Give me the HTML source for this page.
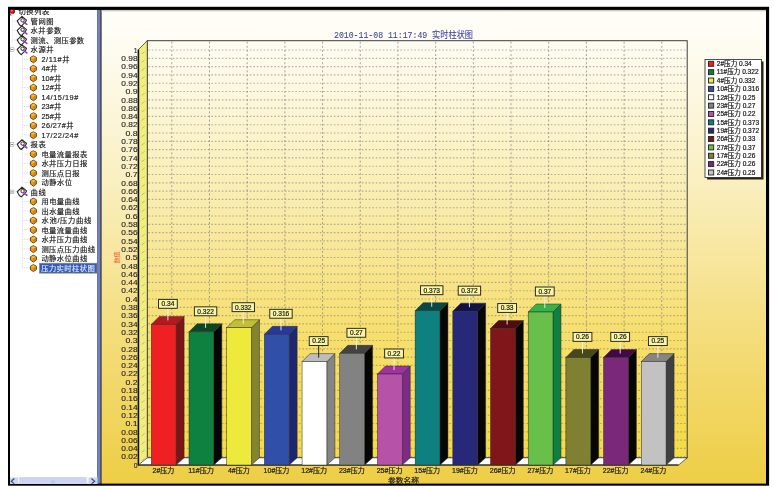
<!DOCTYPE html>
<html lang="zh"><head><meta charset="utf-8"><title>实时柱状图</title>
<style>html,body{margin:0;padding:0;background:#fff;overflow:hidden}svg{display:block}</style></head><body>
<svg width="774" height="489" viewBox="0 0 774 489">
<defs>
<linearGradient id="bg" x1="0" y1="0" x2="0" y2="1"><stop offset="0" stop-color="#fffefa"/><stop offset="0.1" stop-color="#fefbee"/><stop offset="0.35" stop-color="#faf0c2"/><stop offset="0.7" stop-color="#f4dc79"/><stop offset="1" stop-color="#eece45"/></linearGradient>
<linearGradient id="wall" x1="0" y1="0" x2="0" y2="1"><stop offset="0" stop-color="#ffe640" stop-opacity="0"/><stop offset="0.5" stop-color="#ffe640" stop-opacity="0.1"/><stop offset="1" stop-color="#ffe640" stop-opacity="0.45"/></linearGradient>
<radialGradient id="ball" cx="0.4" cy="0.35" r="0.7"><stop offset="0" stop-color="#ff8080"/><stop offset="0.5" stop-color="#e01010"/><stop offset="1" stop-color="#800000"/></radialGradient>
<clipPath id="inner"><rect x="10" y="9.8" width="756" height="473.9"/></clipPath>
</defs>
<rect x="0.00" y="0.00" width="774.00" height="489.00" fill="#fff"/>
<rect x="8.00" y="6.80" width="761.10" height="478.90" fill="#000"/>
<g clip-path="url(#inner)">
<rect x="10.00" y="9.80" width="87.40" height="474.00" fill="#fff"/>
<rect x="97.40" y="9.80" width="2.90" height="474.00" fill="#7080c8"/>
<rect x="100.30" y="9.80" width="1.40" height="474.00" fill="#6a675f"/>
<rect x="101.70" y="9.80" width="664.30" height="474.00" fill="url(#bg)"/>
<rect x="101.70" y="9.80" width="664.30" height="1.00" fill="#b9b5a4"/>
<rect x="101.70" y="10.80" width="664.30" height="0.80" fill="#e6e3d6"/>
<line x1="12.20" y1="14.60" x2="12.20" y2="191.91" stroke="#e4e4e4" stroke-width="0.7" stroke-dasharray="0.8 0.8"/>
<line x1="12.20" y1="21.09" x2="17.00" y2="21.09" stroke="#c9c9c9" stroke-width="0.7" stroke-dasharray="0.8 0.8"/>
<line x1="12.20" y1="30.58" x2="17.00" y2="30.58" stroke="#c9c9c9" stroke-width="0.7" stroke-dasharray="0.8 0.8"/>
<line x1="12.20" y1="40.07" x2="17.00" y2="40.07" stroke="#c9c9c9" stroke-width="0.7" stroke-dasharray="0.8 0.8"/>
<line x1="12.20" y1="49.56" x2="17.00" y2="49.56" stroke="#c9c9c9" stroke-width="0.7" stroke-dasharray="0.8 0.8"/>
<line x1="12.20" y1="144.46" x2="17.00" y2="144.46" stroke="#c9c9c9" stroke-width="0.7" stroke-dasharray="0.8 0.8"/>
<line x1="12.20" y1="191.91" x2="17.00" y2="191.91" stroke="#c9c9c9" stroke-width="0.7" stroke-dasharray="0.8 0.8"/>
<line x1="22.40" y1="53.56" x2="22.40" y2="134.97" stroke="#c9c9c9" stroke-width="0.7" stroke-dasharray="0.8 0.8"/>
<line x1="22.40" y1="59.05" x2="29.50" y2="59.05" stroke="#c9c9c9" stroke-width="0.7" stroke-dasharray="0.8 0.8"/>
<line x1="22.40" y1="68.54" x2="29.50" y2="68.54" stroke="#c9c9c9" stroke-width="0.7" stroke-dasharray="0.8 0.8"/>
<line x1="22.40" y1="78.03" x2="29.50" y2="78.03" stroke="#c9c9c9" stroke-width="0.7" stroke-dasharray="0.8 0.8"/>
<line x1="22.40" y1="87.52" x2="29.50" y2="87.52" stroke="#c9c9c9" stroke-width="0.7" stroke-dasharray="0.8 0.8"/>
<line x1="22.40" y1="97.01" x2="29.50" y2="97.01" stroke="#c9c9c9" stroke-width="0.7" stroke-dasharray="0.8 0.8"/>
<line x1="22.40" y1="106.50" x2="29.50" y2="106.50" stroke="#c9c9c9" stroke-width="0.7" stroke-dasharray="0.8 0.8"/>
<line x1="22.40" y1="115.99" x2="29.50" y2="115.99" stroke="#c9c9c9" stroke-width="0.7" stroke-dasharray="0.8 0.8"/>
<line x1="22.40" y1="125.48" x2="29.50" y2="125.48" stroke="#c9c9c9" stroke-width="0.7" stroke-dasharray="0.8 0.8"/>
<line x1="22.40" y1="134.97" x2="29.50" y2="134.97" stroke="#c9c9c9" stroke-width="0.7" stroke-dasharray="0.8 0.8"/>
<rect x="10.30" y="47.76" width="3.60" height="3.60" fill="#fff" stroke="#a0a8b8" stroke-width="0.6"/>
<line x1="11.10" y1="49.56" x2="13.10" y2="49.56" stroke="#444" stroke-width="0.7"/>
<line x1="22.40" y1="148.46" x2="22.40" y2="182.42" stroke="#c9c9c9" stroke-width="0.7" stroke-dasharray="0.8 0.8"/>
<line x1="22.40" y1="153.95" x2="29.50" y2="153.95" stroke="#c9c9c9" stroke-width="0.7" stroke-dasharray="0.8 0.8"/>
<line x1="22.40" y1="163.44" x2="29.50" y2="163.44" stroke="#c9c9c9" stroke-width="0.7" stroke-dasharray="0.8 0.8"/>
<line x1="22.40" y1="172.93" x2="29.50" y2="172.93" stroke="#c9c9c9" stroke-width="0.7" stroke-dasharray="0.8 0.8"/>
<line x1="22.40" y1="182.42" x2="29.50" y2="182.42" stroke="#c9c9c9" stroke-width="0.7" stroke-dasharray="0.8 0.8"/>
<rect x="10.30" y="142.66" width="3.60" height="3.60" fill="#fff" stroke="#a0a8b8" stroke-width="0.6"/>
<line x1="11.10" y1="144.46" x2="13.10" y2="144.46" stroke="#444" stroke-width="0.7"/>
<line x1="22.40" y1="195.91" x2="22.40" y2="267.83" stroke="#c9c9c9" stroke-width="0.7" stroke-dasharray="0.8 0.8"/>
<line x1="22.40" y1="201.40" x2="29.50" y2="201.40" stroke="#c9c9c9" stroke-width="0.7" stroke-dasharray="0.8 0.8"/>
<line x1="22.40" y1="210.89" x2="29.50" y2="210.89" stroke="#c9c9c9" stroke-width="0.7" stroke-dasharray="0.8 0.8"/>
<line x1="22.40" y1="220.38" x2="29.50" y2="220.38" stroke="#c9c9c9" stroke-width="0.7" stroke-dasharray="0.8 0.8"/>
<line x1="22.40" y1="229.87" x2="29.50" y2="229.87" stroke="#c9c9c9" stroke-width="0.7" stroke-dasharray="0.8 0.8"/>
<line x1="22.40" y1="239.36" x2="29.50" y2="239.36" stroke="#c9c9c9" stroke-width="0.7" stroke-dasharray="0.8 0.8"/>
<line x1="22.40" y1="248.85" x2="29.50" y2="248.85" stroke="#c9c9c9" stroke-width="0.7" stroke-dasharray="0.8 0.8"/>
<line x1="22.40" y1="258.34" x2="29.50" y2="258.34" stroke="#c9c9c9" stroke-width="0.7" stroke-dasharray="0.8 0.8"/>
<line x1="22.40" y1="267.83" x2="29.50" y2="267.83" stroke="#c9c9c9" stroke-width="0.7" stroke-dasharray="0.8 0.8"/>
<rect x="10.30" y="190.11" width="3.60" height="3.60" fill="#fff" stroke="#a0a8b8" stroke-width="0.6"/>
<line x1="11.10" y1="191.91" x2="13.10" y2="191.91" stroke="#444" stroke-width="0.7"/>
<circle cx="12.4" cy="11.2" r="2.6" fill="url(#ball)"/>
<polygon points="10.00,13.00 12.00,15.20 10.00,15.60" fill="#109030"/>
<text transform="translate(18.60 13.80) scale(.1)" font-size="73.0" fill="#222" font-family='"Liberation Sans","Noto Sans CJK SC",sans-serif' stroke="#222" stroke-width="1.7" textLength="306.0" lengthAdjust="spacing">切换列表</text>
<polygon points="17.20,20.89 22.00,16.39 26.50,20.09 25.40,22.09 21.20,26.09 19.40,24.69" fill="#fff" stroke="#2a2a2a" stroke-width="1.15" stroke-linejoin="round"/>
<circle cx="22.60" cy="20.29" r="1.7" fill="#fff" stroke="#333" stroke-width="1.0"/>
<line x1="23.20" y1="21.59" x2="26.80" y2="24.39" stroke="#9048b0" stroke-width="1.7" stroke-linecap="round"/>
<text transform="translate(30.60 23.84) scale(.1)" font-size="73.0" fill="#1c1c1c" font-family='"Liberation Sans","Noto Sans CJK SC",sans-serif' stroke="#1c1c1c" stroke-width="1.7" textLength="229.5" lengthAdjust="spacing">管网图</text>
<polygon points="17.20,30.38 22.00,25.88 26.50,29.58 25.40,31.58 21.20,35.58 19.40,34.18" fill="#fff" stroke="#2a2a2a" stroke-width="1.15" stroke-linejoin="round"/>
<circle cx="22.60" cy="29.78" r="1.7" fill="#fff" stroke="#333" stroke-width="1.0"/>
<line x1="23.20" y1="31.08" x2="26.80" y2="33.88" stroke="#9048b0" stroke-width="1.7" stroke-linecap="round"/>
<text transform="translate(30.60 33.33) scale(.1)" font-size="73.0" fill="#1c1c1c" font-family='"Liberation Sans","Noto Sans CJK SC",sans-serif' stroke="#1c1c1c" stroke-width="1.7" textLength="306.0" lengthAdjust="spacing">水井参数</text>
<polygon points="17.20,39.87 22.00,35.37 26.50,39.07 25.40,41.07 21.20,45.07 19.40,43.67" fill="#fff" stroke="#2a2a2a" stroke-width="1.15" stroke-linejoin="round"/>
<circle cx="22.60" cy="39.27" r="1.7" fill="#fff" stroke="#333" stroke-width="1.0"/>
<line x1="23.20" y1="40.57" x2="26.80" y2="43.37" stroke="#9048b0" stroke-width="1.7" stroke-linecap="round"/>
<text transform="translate(30.60 42.82) scale(.1)" font-size="73.0" fill="#1c1c1c" font-family='"Liberation Sans","Noto Sans CJK SC",sans-serif' stroke="#1c1c1c" stroke-width="1.7" textLength="535.5" lengthAdjust="spacing">测流、测压参数</text>
<polygon points="17.20,49.36 22.00,44.86 26.50,48.56 25.40,50.56 21.20,54.56 19.40,53.16" fill="#fff" stroke="#2a2a2a" stroke-width="1.15" stroke-linejoin="round"/>
<circle cx="22.60" cy="48.76" r="1.7" fill="#fff" stroke="#333" stroke-width="1.0"/>
<line x1="23.20" y1="50.06" x2="26.80" y2="52.86" stroke="#9048b0" stroke-width="1.7" stroke-linecap="round"/>
<text transform="translate(30.60 52.31) scale(.1)" font-size="73.0" fill="#1c1c1c" font-family='"Liberation Sans","Noto Sans CJK SC",sans-serif' stroke="#1c1c1c" stroke-width="1.7" textLength="229.5" lengthAdjust="spacing">水源井</text>
<polygon points="33.40,55.85 36.40,57.45 36.40,60.75 33.40,62.75 30.40,60.75 30.40,57.45" fill="#eb9c1a" stroke="#5e3806" stroke-width="0.9" stroke-linejoin="round"/>
<polygon points="33.40,56.35 35.90,57.65 33.40,58.95 30.90,57.65" fill="#fbb840"/>
<polygon points="33.40,58.95 35.90,57.65 35.90,60.55 33.40,62.15" fill="#d0820e"/>
<text transform="translate(41.40 61.80) scale(.1)" font-size="73.0" fill="#1c1c1c" font-family='"Liberation Sans","Noto Sans CJK SC",sans-serif' stroke="#1c1c1c" stroke-width="1.7" textLength="281.5" lengthAdjust="spacing">2/11#井</text>
<polygon points="33.40,65.34 36.40,66.94 36.40,70.24 33.40,72.24 30.40,70.24 30.40,66.94" fill="#eb9c1a" stroke="#5e3806" stroke-width="0.9" stroke-linejoin="round"/>
<polygon points="33.40,65.84 35.90,67.14 33.40,68.44 30.90,67.14" fill="#fbb840"/>
<polygon points="33.40,68.44 35.90,67.14 35.90,70.04 33.40,71.64" fill="#d0820e"/>
<text transform="translate(41.40 71.29) scale(.1)" font-size="73.0" fill="#1c1c1c" font-family='"Liberation Sans","Noto Sans CJK SC",sans-serif' stroke="#1c1c1c" stroke-width="1.7" textLength="158.5" lengthAdjust="spacing">4#井</text>
<polygon points="33.40,74.83 36.40,76.43 36.40,79.73 33.40,81.73 30.40,79.73 30.40,76.43" fill="#eb9c1a" stroke="#5e3806" stroke-width="0.9" stroke-linejoin="round"/>
<polygon points="33.40,75.33 35.90,76.63 33.40,77.93 30.90,76.63" fill="#fbb840"/>
<polygon points="33.40,77.93 35.90,76.63 35.90,79.53 33.40,81.13" fill="#d0820e"/>
<text transform="translate(41.40 80.78) scale(.1)" font-size="73.0" fill="#1c1c1c" font-family='"Liberation Sans","Noto Sans CJK SC",sans-serif' stroke="#1c1c1c" stroke-width="1.7" textLength="199.5" lengthAdjust="spacing">10#井</text>
<polygon points="33.40,84.32 36.40,85.92 36.40,89.22 33.40,91.22 30.40,89.22 30.40,85.92" fill="#eb9c1a" stroke="#5e3806" stroke-width="0.9" stroke-linejoin="round"/>
<polygon points="33.40,84.82 35.90,86.12 33.40,87.42 30.90,86.12" fill="#fbb840"/>
<polygon points="33.40,87.42 35.90,86.12 35.90,89.02 33.40,90.62" fill="#d0820e"/>
<text transform="translate(41.40 90.27) scale(.1)" font-size="73.0" fill="#1c1c1c" font-family='"Liberation Sans","Noto Sans CJK SC",sans-serif' stroke="#1c1c1c" stroke-width="1.7" textLength="199.5" lengthAdjust="spacing">12#井</text>
<polygon points="33.40,93.81 36.40,95.41 36.40,98.71 33.40,100.71 30.40,98.71 30.40,95.41" fill="#eb9c1a" stroke="#5e3806" stroke-width="0.9" stroke-linejoin="round"/>
<polygon points="33.40,94.31 35.90,95.61 33.40,96.91 30.90,95.61" fill="#fbb840"/>
<polygon points="33.40,96.91 35.90,95.61 35.90,98.51 33.40,100.11" fill="#d0820e"/>
<text transform="translate(41.40 99.76) scale(.1)" font-size="73.0" fill="#1c1c1c" font-family='"Liberation Sans","Noto Sans CJK SC",sans-serif' stroke="#1c1c1c" stroke-width="1.7" textLength="369.0" lengthAdjust="spacing">14/15/19#</text>
<polygon points="33.40,103.30 36.40,104.90 36.40,108.20 33.40,110.20 30.40,108.20 30.40,104.90" fill="#eb9c1a" stroke="#5e3806" stroke-width="0.9" stroke-linejoin="round"/>
<polygon points="33.40,103.80 35.90,105.10 33.40,106.40 30.90,105.10" fill="#fbb840"/>
<polygon points="33.40,106.40 35.90,105.10 35.90,108.00 33.40,109.60" fill="#d0820e"/>
<text transform="translate(41.40 109.25) scale(.1)" font-size="73.0" fill="#1c1c1c" font-family='"Liberation Sans","Noto Sans CJK SC",sans-serif' stroke="#1c1c1c" stroke-width="1.7" textLength="199.5" lengthAdjust="spacing">23#井</text>
<polygon points="33.40,112.79 36.40,114.39 36.40,117.69 33.40,119.69 30.40,117.69 30.40,114.39" fill="#eb9c1a" stroke="#5e3806" stroke-width="0.9" stroke-linejoin="round"/>
<polygon points="33.40,113.29 35.90,114.59 33.40,115.89 30.90,114.59" fill="#fbb840"/>
<polygon points="33.40,115.89 35.90,114.59 35.90,117.49 33.40,119.09" fill="#d0820e"/>
<text transform="translate(41.40 118.74) scale(.1)" font-size="73.0" fill="#1c1c1c" font-family='"Liberation Sans","Noto Sans CJK SC",sans-serif' stroke="#1c1c1c" stroke-width="1.7" textLength="199.5" lengthAdjust="spacing">25#井</text>
<polygon points="33.40,122.28 36.40,123.88 36.40,127.18 33.40,129.18 30.40,127.18 30.40,123.88" fill="#eb9c1a" stroke="#5e3806" stroke-width="0.9" stroke-linejoin="round"/>
<polygon points="33.40,122.78 35.90,124.08 33.40,125.38 30.90,124.08" fill="#fbb840"/>
<polygon points="33.40,125.38 35.90,124.08 35.90,126.98 33.40,128.58" fill="#d0820e"/>
<text transform="translate(41.40 128.23) scale(.1)" font-size="73.0" fill="#1c1c1c" font-family='"Liberation Sans","Noto Sans CJK SC",sans-serif' stroke="#1c1c1c" stroke-width="1.7" textLength="322.5" lengthAdjust="spacing">26/27#井</text>
<polygon points="33.40,131.77 36.40,133.37 36.40,136.67 33.40,138.67 30.40,136.67 30.40,133.37" fill="#eb9c1a" stroke="#5e3806" stroke-width="0.9" stroke-linejoin="round"/>
<polygon points="33.40,132.27 35.90,133.57 33.40,134.87 30.90,133.57" fill="#fbb840"/>
<polygon points="33.40,134.87 35.90,133.57 35.90,136.47 33.40,138.07" fill="#d0820e"/>
<text transform="translate(41.40 137.72) scale(.1)" font-size="73.0" fill="#1c1c1c" font-family='"Liberation Sans","Noto Sans CJK SC",sans-serif' stroke="#1c1c1c" stroke-width="1.7" textLength="369.0" lengthAdjust="spacing">17/22/24#</text>
<polygon points="17.20,144.26 22.00,139.76 26.50,143.46 25.40,145.46 21.20,149.46 19.40,148.06" fill="#fff" stroke="#2a2a2a" stroke-width="1.15" stroke-linejoin="round"/>
<circle cx="22.60" cy="143.66" r="1.7" fill="#fff" stroke="#333" stroke-width="1.0"/>
<line x1="23.20" y1="144.96" x2="26.80" y2="147.76" stroke="#9048b0" stroke-width="1.7" stroke-linecap="round"/>
<text transform="translate(30.60 147.21) scale(.1)" font-size="73.0" fill="#1c1c1c" font-family='"Liberation Sans","Noto Sans CJK SC",sans-serif' stroke="#1c1c1c" stroke-width="1.7" textLength="153.0" lengthAdjust="spacing">报表</text>
<polygon points="33.40,150.75 36.40,152.35 36.40,155.65 33.40,157.65 30.40,155.65 30.40,152.35" fill="#eb9c1a" stroke="#5e3806" stroke-width="0.9" stroke-linejoin="round"/>
<polygon points="33.40,151.25 35.90,152.55 33.40,153.85 30.90,152.55" fill="#fbb840"/>
<polygon points="33.40,153.85 35.90,152.55 35.90,155.45 33.40,157.05" fill="#d0820e"/>
<text transform="translate(41.40 156.70) scale(.1)" font-size="73.0" fill="#1c1c1c" font-family='"Liberation Sans","Noto Sans CJK SC",sans-serif' stroke="#1c1c1c" stroke-width="1.7" textLength="459.0" lengthAdjust="spacing">电量流量报表</text>
<polygon points="33.40,160.24 36.40,161.84 36.40,165.14 33.40,167.14 30.40,165.14 30.40,161.84" fill="#eb9c1a" stroke="#5e3806" stroke-width="0.9" stroke-linejoin="round"/>
<polygon points="33.40,160.74 35.90,162.04 33.40,163.34 30.90,162.04" fill="#fbb840"/>
<polygon points="33.40,163.34 35.90,162.04 35.90,164.94 33.40,166.54" fill="#d0820e"/>
<text transform="translate(41.40 166.19) scale(.1)" font-size="73.0" fill="#1c1c1c" font-family='"Liberation Sans","Noto Sans CJK SC",sans-serif' stroke="#1c1c1c" stroke-width="1.7" textLength="459.0" lengthAdjust="spacing">水井压力日报</text>
<polygon points="33.40,169.73 36.40,171.33 36.40,174.63 33.40,176.63 30.40,174.63 30.40,171.33" fill="#eb9c1a" stroke="#5e3806" stroke-width="0.9" stroke-linejoin="round"/>
<polygon points="33.40,170.23 35.90,171.53 33.40,172.83 30.90,171.53" fill="#fbb840"/>
<polygon points="33.40,172.83 35.90,171.53 35.90,174.43 33.40,176.03" fill="#d0820e"/>
<text transform="translate(41.40 175.68) scale(.1)" font-size="73.0" fill="#1c1c1c" font-family='"Liberation Sans","Noto Sans CJK SC",sans-serif' stroke="#1c1c1c" stroke-width="1.7" textLength="382.5" lengthAdjust="spacing">测压点日报</text>
<polygon points="33.40,179.22 36.40,180.82 36.40,184.12 33.40,186.12 30.40,184.12 30.40,180.82" fill="#eb9c1a" stroke="#5e3806" stroke-width="0.9" stroke-linejoin="round"/>
<polygon points="33.40,179.72 35.90,181.02 33.40,182.32 30.90,181.02" fill="#fbb840"/>
<polygon points="33.40,182.32 35.90,181.02 35.90,183.92 33.40,185.52" fill="#d0820e"/>
<text transform="translate(41.40 185.17) scale(.1)" font-size="73.0" fill="#1c1c1c" font-family='"Liberation Sans","Noto Sans CJK SC",sans-serif' stroke="#1c1c1c" stroke-width="1.7" textLength="306.0" lengthAdjust="spacing">动静水位</text>
<polygon points="17.20,191.71 22.00,187.21 26.50,190.91 25.40,192.91 21.20,196.91 19.40,195.51" fill="#fff" stroke="#2a2a2a" stroke-width="1.15" stroke-linejoin="round"/>
<circle cx="22.60" cy="191.11" r="1.7" fill="#fff" stroke="#333" stroke-width="1.0"/>
<line x1="23.20" y1="192.41" x2="26.80" y2="195.21" stroke="#9048b0" stroke-width="1.7" stroke-linecap="round"/>
<text transform="translate(30.60 194.66) scale(.1)" font-size="73.0" fill="#1c1c1c" font-family='"Liberation Sans","Noto Sans CJK SC",sans-serif' stroke="#1c1c1c" stroke-width="1.7" textLength="153.0" lengthAdjust="spacing">曲线</text>
<polygon points="33.40,198.20 36.40,199.80 36.40,203.10 33.40,205.10 30.40,203.10 30.40,199.80" fill="#eb9c1a" stroke="#5e3806" stroke-width="0.9" stroke-linejoin="round"/>
<polygon points="33.40,198.70 35.90,200.00 33.40,201.30 30.90,200.00" fill="#fbb840"/>
<polygon points="33.40,201.30 35.90,200.00 35.90,202.90 33.40,204.50" fill="#d0820e"/>
<text transform="translate(41.40 204.15) scale(.1)" font-size="73.0" fill="#1c1c1c" font-family='"Liberation Sans","Noto Sans CJK SC",sans-serif' stroke="#1c1c1c" stroke-width="1.7" textLength="382.5" lengthAdjust="spacing">用电量曲线</text>
<polygon points="33.40,207.69 36.40,209.29 36.40,212.59 33.40,214.59 30.40,212.59 30.40,209.29" fill="#eb9c1a" stroke="#5e3806" stroke-width="0.9" stroke-linejoin="round"/>
<polygon points="33.40,208.19 35.90,209.49 33.40,210.79 30.90,209.49" fill="#fbb840"/>
<polygon points="33.40,210.79 35.90,209.49 35.90,212.39 33.40,213.99" fill="#d0820e"/>
<text transform="translate(41.40 213.64) scale(.1)" font-size="73.0" fill="#1c1c1c" font-family='"Liberation Sans","Noto Sans CJK SC",sans-serif' stroke="#1c1c1c" stroke-width="1.7" textLength="382.5" lengthAdjust="spacing">出水量曲线</text>
<polygon points="33.40,217.18 36.40,218.78 36.40,222.08 33.40,224.08 30.40,222.08 30.40,218.78" fill="#eb9c1a" stroke="#5e3806" stroke-width="0.9" stroke-linejoin="round"/>
<polygon points="33.40,217.68 35.90,218.98 33.40,220.28 30.90,218.98" fill="#fbb840"/>
<polygon points="33.40,220.28 35.90,218.98 35.90,221.88 33.40,223.48" fill="#d0820e"/>
<text transform="translate(41.40 223.13) scale(.1)" font-size="73.0" fill="#1c1c1c" font-family='"Liberation Sans","Noto Sans CJK SC",sans-serif' stroke="#1c1c1c" stroke-width="1.7" textLength="500.0" lengthAdjust="spacing">水池/压力曲线</text>
<polygon points="33.40,226.67 36.40,228.27 36.40,231.57 33.40,233.57 30.40,231.57 30.40,228.27" fill="#eb9c1a" stroke="#5e3806" stroke-width="0.9" stroke-linejoin="round"/>
<polygon points="33.40,227.17 35.90,228.47 33.40,229.77 30.90,228.47" fill="#fbb840"/>
<polygon points="33.40,229.77 35.90,228.47 35.90,231.37 33.40,232.97" fill="#d0820e"/>
<text transform="translate(41.40 232.62) scale(.1)" font-size="73.0" fill="#1c1c1c" font-family='"Liberation Sans","Noto Sans CJK SC",sans-serif' stroke="#1c1c1c" stroke-width="1.7" textLength="459.0" lengthAdjust="spacing">电量流量曲线</text>
<polygon points="33.40,236.16 36.40,237.76 36.40,241.06 33.40,243.06 30.40,241.06 30.40,237.76" fill="#eb9c1a" stroke="#5e3806" stroke-width="0.9" stroke-linejoin="round"/>
<polygon points="33.40,236.66 35.90,237.96 33.40,239.26 30.90,237.96" fill="#fbb840"/>
<polygon points="33.40,239.26 35.90,237.96 35.90,240.86 33.40,242.46" fill="#d0820e"/>
<text transform="translate(41.40 242.11) scale(.1)" font-size="73.0" fill="#1c1c1c" font-family='"Liberation Sans","Noto Sans CJK SC",sans-serif' stroke="#1c1c1c" stroke-width="1.7" textLength="459.0" lengthAdjust="spacing">水井压力曲线</text>
<polygon points="33.40,245.65 36.40,247.25 36.40,250.55 33.40,252.55 30.40,250.55 30.40,247.25" fill="#eb9c1a" stroke="#5e3806" stroke-width="0.9" stroke-linejoin="round"/>
<polygon points="33.40,246.15 35.90,247.45 33.40,248.75 30.90,247.45" fill="#fbb840"/>
<polygon points="33.40,248.75 35.90,247.45 35.90,250.35 33.40,251.95" fill="#d0820e"/>
<text transform="translate(41.40 251.60) scale(.1)" font-size="73.0" fill="#1c1c1c" font-family='"Liberation Sans","Noto Sans CJK SC",sans-serif' stroke="#1c1c1c" stroke-width="1.7" textLength="535.5" lengthAdjust="spacing">测压点压力曲线</text>
<polygon points="33.40,255.14 36.40,256.74 36.40,260.04 33.40,262.04 30.40,260.04 30.40,256.74" fill="#eb9c1a" stroke="#5e3806" stroke-width="0.9" stroke-linejoin="round"/>
<polygon points="33.40,255.64 35.90,256.94 33.40,258.24 30.90,256.94" fill="#fbb840"/>
<polygon points="33.40,258.24 35.90,256.94 35.90,259.84 33.40,261.44" fill="#d0820e"/>
<text transform="translate(41.40 261.09) scale(.1)" font-size="73.0" fill="#1c1c1c" font-family='"Liberation Sans","Noto Sans CJK SC",sans-serif' stroke="#1c1c1c" stroke-width="1.7" textLength="459.0" lengthAdjust="spacing">动静水位曲线</text>
<polygon points="33.40,264.63 36.40,266.23 36.40,269.53 33.40,271.53 30.40,269.53 30.40,266.23" fill="#eb9c1a" stroke="#5e3806" stroke-width="0.9" stroke-linejoin="round"/>
<polygon points="33.40,265.13 35.90,266.43 33.40,267.73 30.90,266.43" fill="#fbb840"/>
<polygon points="33.40,267.73 35.90,266.43 35.90,269.33 33.40,270.93" fill="#d0820e"/>
<rect x="39.60" y="263.23" width="57.40" height="9.90" fill="#335cbc" stroke="#8f8460" stroke-width="0.7"/>
<text transform="translate(41.20 270.58) scale(.1)" font-size="73.0" fill="#e8eefc" font-family='"Liberation Sans","Noto Sans CJK SC",sans-serif' stroke="#e8eefc" stroke-width="1.0" textLength="535.5" lengthAdjust="spacing">压力实时柱状图</text>
<rect x="10.00" y="477.20" width="87.40" height="7.00" fill="#f3f2ea"/>
<rect x="10.00" y="477.60" width="8.00" height="7.00" fill="#c9d5f6"/>
<rect x="88.60" y="477.60" width="8.60" height="7.00" fill="#c9d5f6"/>
<rect x="19.90" y="477.80" width="66.00" height="7.00" fill="#cbd6f6" stroke="#b4c1ee" stroke-width="0.6"/>
<path d="M14.4 478.4 L11.2 481.2 L14.4 484" fill="none" stroke="#43557d" stroke-width="1.3"/>
<path d="M91.4 478.4 L94.6 481.2 L91.4 484" fill="none" stroke="#43557d" stroke-width="1.3"/>
<line x1="52.00" y1="480.00" x2="52.00" y2="484.00" stroke="#9fb0ea" stroke-width="0.6"/>
<line x1="54.00" y1="480.00" x2="54.00" y2="484.00" stroke="#9fb0ea" stroke-width="0.6"/>
<rect x="147.30" y="40.70" width="539.90" height="417.10" fill="url(#wall)"/>
<line x1="148.30" y1="50.00" x2="687.20" y2="50.00" stroke="#70727a" stroke-width="1.15" stroke-dasharray="1.6 1.9" opacity="0.52"/>
<line x1="148.30" y1="58.30" x2="687.20" y2="58.30" stroke="#70727a" stroke-width="1.15" stroke-dasharray="1.6 1.9" opacity="0.52"/>
<line x1="148.30" y1="66.60" x2="687.20" y2="66.60" stroke="#70727a" stroke-width="1.15" stroke-dasharray="1.6 1.9" opacity="0.52"/>
<line x1="148.30" y1="74.90" x2="687.20" y2="74.90" stroke="#70727a" stroke-width="1.15" stroke-dasharray="1.6 1.9" opacity="0.52"/>
<line x1="148.30" y1="83.20" x2="687.20" y2="83.20" stroke="#70727a" stroke-width="1.15" stroke-dasharray="1.6 1.9" opacity="0.52"/>
<line x1="148.30" y1="91.50" x2="687.20" y2="91.50" stroke="#70727a" stroke-width="1.15" stroke-dasharray="1.6 1.9" opacity="0.52"/>
<line x1="148.30" y1="99.80" x2="687.20" y2="99.80" stroke="#70727a" stroke-width="1.15" stroke-dasharray="1.6 1.9" opacity="0.52"/>
<line x1="148.30" y1="108.10" x2="687.20" y2="108.10" stroke="#70727a" stroke-width="1.15" stroke-dasharray="1.6 1.9" opacity="0.52"/>
<line x1="148.30" y1="116.40" x2="687.20" y2="116.40" stroke="#70727a" stroke-width="1.15" stroke-dasharray="1.6 1.9" opacity="0.52"/>
<line x1="148.30" y1="124.70" x2="687.20" y2="124.70" stroke="#70727a" stroke-width="1.15" stroke-dasharray="1.6 1.9" opacity="0.52"/>
<line x1="148.30" y1="133.00" x2="687.20" y2="133.00" stroke="#70727a" stroke-width="1.15" stroke-dasharray="1.6 1.9" opacity="0.52"/>
<line x1="148.30" y1="141.30" x2="687.20" y2="141.30" stroke="#70727a" stroke-width="1.15" stroke-dasharray="1.6 1.9" opacity="0.52"/>
<line x1="148.30" y1="149.60" x2="687.20" y2="149.60" stroke="#70727a" stroke-width="1.15" stroke-dasharray="1.6 1.9" opacity="0.52"/>
<line x1="148.30" y1="157.90" x2="687.20" y2="157.90" stroke="#70727a" stroke-width="1.15" stroke-dasharray="1.6 1.9" opacity="0.52"/>
<line x1="148.30" y1="166.20" x2="687.20" y2="166.20" stroke="#70727a" stroke-width="1.15" stroke-dasharray="1.6 1.9" opacity="0.52"/>
<line x1="148.30" y1="174.50" x2="687.20" y2="174.50" stroke="#70727a" stroke-width="1.15" stroke-dasharray="1.6 1.9" opacity="0.52"/>
<line x1="148.30" y1="182.80" x2="687.20" y2="182.80" stroke="#70727a" stroke-width="1.15" stroke-dasharray="1.6 1.9" opacity="0.52"/>
<line x1="148.30" y1="191.10" x2="687.20" y2="191.10" stroke="#70727a" stroke-width="1.15" stroke-dasharray="1.6 1.9" opacity="0.52"/>
<line x1="148.30" y1="199.40" x2="687.20" y2="199.40" stroke="#70727a" stroke-width="1.15" stroke-dasharray="1.6 1.9" opacity="0.52"/>
<line x1="148.30" y1="207.70" x2="687.20" y2="207.70" stroke="#70727a" stroke-width="1.15" stroke-dasharray="1.6 1.9" opacity="0.52"/>
<line x1="148.30" y1="216.00" x2="687.20" y2="216.00" stroke="#70727a" stroke-width="1.15" stroke-dasharray="1.6 1.9" opacity="0.52"/>
<line x1="148.30" y1="224.30" x2="687.20" y2="224.30" stroke="#70727a" stroke-width="1.15" stroke-dasharray="1.6 1.9" opacity="0.52"/>
<line x1="148.30" y1="232.60" x2="687.20" y2="232.60" stroke="#70727a" stroke-width="1.15" stroke-dasharray="1.6 1.9" opacity="0.52"/>
<line x1="148.30" y1="240.90" x2="687.20" y2="240.90" stroke="#70727a" stroke-width="1.15" stroke-dasharray="1.6 1.9" opacity="0.52"/>
<line x1="148.30" y1="249.20" x2="687.20" y2="249.20" stroke="#70727a" stroke-width="1.15" stroke-dasharray="1.6 1.9" opacity="0.52"/>
<line x1="148.30" y1="257.50" x2="687.20" y2="257.50" stroke="#70727a" stroke-width="1.15" stroke-dasharray="1.6 1.9" opacity="0.52"/>
<line x1="148.30" y1="265.80" x2="687.20" y2="265.80" stroke="#70727a" stroke-width="1.15" stroke-dasharray="1.6 1.9" opacity="0.52"/>
<line x1="148.30" y1="274.10" x2="687.20" y2="274.10" stroke="#70727a" stroke-width="1.15" stroke-dasharray="1.6 1.9" opacity="0.52"/>
<line x1="148.30" y1="282.40" x2="687.20" y2="282.40" stroke="#70727a" stroke-width="1.15" stroke-dasharray="1.6 1.9" opacity="0.52"/>
<line x1="148.30" y1="290.70" x2="687.20" y2="290.70" stroke="#70727a" stroke-width="1.15" stroke-dasharray="1.6 1.9" opacity="0.52"/>
<line x1="148.30" y1="299.00" x2="687.20" y2="299.00" stroke="#70727a" stroke-width="1.15" stroke-dasharray="1.6 1.9" opacity="0.52"/>
<line x1="148.30" y1="307.30" x2="687.20" y2="307.30" stroke="#70727a" stroke-width="1.15" stroke-dasharray="1.6 1.9" opacity="0.52"/>
<line x1="148.30" y1="315.60" x2="687.20" y2="315.60" stroke="#70727a" stroke-width="1.15" stroke-dasharray="1.6 1.9" opacity="0.52"/>
<line x1="148.30" y1="323.90" x2="687.20" y2="323.90" stroke="#70727a" stroke-width="1.15" stroke-dasharray="1.6 1.9" opacity="0.52"/>
<line x1="148.30" y1="332.20" x2="687.20" y2="332.20" stroke="#70727a" stroke-width="1.15" stroke-dasharray="1.6 1.9" opacity="0.52"/>
<line x1="148.30" y1="340.50" x2="687.20" y2="340.50" stroke="#70727a" stroke-width="1.15" stroke-dasharray="1.6 1.9" opacity="0.52"/>
<line x1="148.30" y1="348.80" x2="687.20" y2="348.80" stroke="#70727a" stroke-width="1.15" stroke-dasharray="1.6 1.9" opacity="0.52"/>
<line x1="148.30" y1="357.10" x2="687.20" y2="357.10" stroke="#70727a" stroke-width="1.15" stroke-dasharray="1.6 1.9" opacity="0.52"/>
<line x1="148.30" y1="365.40" x2="687.20" y2="365.40" stroke="#70727a" stroke-width="1.15" stroke-dasharray="1.6 1.9" opacity="0.52"/>
<line x1="148.30" y1="373.70" x2="687.20" y2="373.70" stroke="#70727a" stroke-width="1.15" stroke-dasharray="1.6 1.9" opacity="0.52"/>
<line x1="148.30" y1="382.00" x2="687.20" y2="382.00" stroke="#70727a" stroke-width="1.15" stroke-dasharray="1.6 1.9" opacity="0.52"/>
<line x1="148.30" y1="390.30" x2="687.20" y2="390.30" stroke="#70727a" stroke-width="1.15" stroke-dasharray="1.6 1.9" opacity="0.52"/>
<line x1="148.30" y1="398.60" x2="687.20" y2="398.60" stroke="#70727a" stroke-width="1.15" stroke-dasharray="1.6 1.9" opacity="0.52"/>
<line x1="148.30" y1="406.90" x2="687.20" y2="406.90" stroke="#70727a" stroke-width="1.15" stroke-dasharray="1.6 1.9" opacity="0.52"/>
<line x1="148.30" y1="415.20" x2="687.20" y2="415.20" stroke="#70727a" stroke-width="1.15" stroke-dasharray="1.6 1.9" opacity="0.52"/>
<line x1="148.30" y1="423.50" x2="687.20" y2="423.50" stroke="#70727a" stroke-width="1.15" stroke-dasharray="1.6 1.9" opacity="0.52"/>
<line x1="148.30" y1="431.80" x2="687.20" y2="431.80" stroke="#70727a" stroke-width="1.15" stroke-dasharray="1.6 1.9" opacity="0.52"/>
<line x1="148.30" y1="440.10" x2="687.20" y2="440.10" stroke="#70727a" stroke-width="1.15" stroke-dasharray="1.6 1.9" opacity="0.52"/>
<line x1="148.30" y1="448.40" x2="687.20" y2="448.40" stroke="#70727a" stroke-width="1.15" stroke-dasharray="1.6 1.9" opacity="0.52"/>
<line x1="148.30" y1="456.70" x2="687.20" y2="456.70" stroke="#70727a" stroke-width="1.15" stroke-dasharray="1.6 1.9" opacity="0.52"/>
<line x1="171.80" y1="41.70" x2="171.80" y2="457.80" stroke="#70727a" stroke-width="1.0" stroke-dasharray="2 2.1" opacity="0.62"/>
<line x1="209.49" y1="41.70" x2="209.49" y2="457.80" stroke="#70727a" stroke-width="1.0" stroke-dasharray="2 2.1" opacity="0.62"/>
<line x1="247.18" y1="41.70" x2="247.18" y2="457.80" stroke="#70727a" stroke-width="1.0" stroke-dasharray="2 2.1" opacity="0.62"/>
<line x1="284.87" y1="41.70" x2="284.87" y2="457.80" stroke="#70727a" stroke-width="1.0" stroke-dasharray="2 2.1" opacity="0.62"/>
<line x1="322.56" y1="41.70" x2="322.56" y2="457.80" stroke="#70727a" stroke-width="1.0" stroke-dasharray="2 2.1" opacity="0.62"/>
<line x1="360.25" y1="41.70" x2="360.25" y2="457.80" stroke="#70727a" stroke-width="1.0" stroke-dasharray="2 2.1" opacity="0.62"/>
<line x1="397.94" y1="41.70" x2="397.94" y2="457.80" stroke="#70727a" stroke-width="1.0" stroke-dasharray="2 2.1" opacity="0.62"/>
<line x1="435.63" y1="41.70" x2="435.63" y2="457.80" stroke="#70727a" stroke-width="1.0" stroke-dasharray="2 2.1" opacity="0.62"/>
<line x1="473.32" y1="41.70" x2="473.32" y2="457.80" stroke="#70727a" stroke-width="1.0" stroke-dasharray="2 2.1" opacity="0.62"/>
<line x1="511.01" y1="41.70" x2="511.01" y2="457.80" stroke="#70727a" stroke-width="1.0" stroke-dasharray="2 2.1" opacity="0.62"/>
<line x1="548.70" y1="41.70" x2="548.70" y2="457.80" stroke="#70727a" stroke-width="1.0" stroke-dasharray="2 2.1" opacity="0.62"/>
<line x1="586.39" y1="41.70" x2="586.39" y2="457.80" stroke="#70727a" stroke-width="1.0" stroke-dasharray="2 2.1" opacity="0.62"/>
<line x1="624.08" y1="41.70" x2="624.08" y2="457.80" stroke="#70727a" stroke-width="1.0" stroke-dasharray="2 2.1" opacity="0.62"/>
<line x1="661.77" y1="41.70" x2="661.77" y2="457.80" stroke="#70727a" stroke-width="1.0" stroke-dasharray="2 2.1" opacity="0.62"/>
<rect x="147.30" y="40.70" width="539.90" height="417.10" fill="none" stroke="#3c3c3c" stroke-width="1.0"/>
<polygon points="138.40,49.70 147.30,40.70 147.30,457.80 138.40,465.00" fill="#f1ee7c"/>
<line x1="141.70" y1="54.00" x2="144.70" y2="51.60" stroke="#9a9a88" stroke-width="0.6"/>
<line x1="141.70" y1="62.30" x2="144.70" y2="59.90" stroke="#9a9a88" stroke-width="0.6"/>
<line x1="141.70" y1="70.60" x2="144.70" y2="68.20" stroke="#9a9a88" stroke-width="0.6"/>
<line x1="141.70" y1="78.90" x2="144.70" y2="76.50" stroke="#9a9a88" stroke-width="0.6"/>
<line x1="141.70" y1="87.20" x2="144.70" y2="84.80" stroke="#9a9a88" stroke-width="0.6"/>
<line x1="141.70" y1="95.50" x2="144.70" y2="93.10" stroke="#9a9a88" stroke-width="0.6"/>
<line x1="141.70" y1="103.80" x2="144.70" y2="101.40" stroke="#9a9a88" stroke-width="0.6"/>
<line x1="141.70" y1="112.10" x2="144.70" y2="109.70" stroke="#9a9a88" stroke-width="0.6"/>
<line x1="141.70" y1="120.40" x2="144.70" y2="118.00" stroke="#9a9a88" stroke-width="0.6"/>
<line x1="141.70" y1="128.70" x2="144.70" y2="126.30" stroke="#9a9a88" stroke-width="0.6"/>
<line x1="141.70" y1="137.00" x2="144.70" y2="134.60" stroke="#9a9a88" stroke-width="0.6"/>
<line x1="141.70" y1="145.30" x2="144.70" y2="142.90" stroke="#9a9a88" stroke-width="0.6"/>
<line x1="141.70" y1="153.60" x2="144.70" y2="151.20" stroke="#9a9a88" stroke-width="0.6"/>
<line x1="141.70" y1="161.90" x2="144.70" y2="159.50" stroke="#9a9a88" stroke-width="0.6"/>
<line x1="141.70" y1="170.20" x2="144.70" y2="167.80" stroke="#9a9a88" stroke-width="0.6"/>
<line x1="141.70" y1="178.50" x2="144.70" y2="176.10" stroke="#9a9a88" stroke-width="0.6"/>
<line x1="141.70" y1="186.80" x2="144.70" y2="184.40" stroke="#9a9a88" stroke-width="0.6"/>
<line x1="141.70" y1="195.10" x2="144.70" y2="192.70" stroke="#9a9a88" stroke-width="0.6"/>
<line x1="141.70" y1="203.40" x2="144.70" y2="201.00" stroke="#9a9a88" stroke-width="0.6"/>
<line x1="141.70" y1="211.70" x2="144.70" y2="209.30" stroke="#9a9a88" stroke-width="0.6"/>
<line x1="141.70" y1="220.00" x2="144.70" y2="217.60" stroke="#9a9a88" stroke-width="0.6"/>
<line x1="141.70" y1="228.30" x2="144.70" y2="225.90" stroke="#9a9a88" stroke-width="0.6"/>
<line x1="141.70" y1="236.60" x2="144.70" y2="234.20" stroke="#9a9a88" stroke-width="0.6"/>
<line x1="141.70" y1="244.90" x2="144.70" y2="242.50" stroke="#9a9a88" stroke-width="0.6"/>
<line x1="141.70" y1="253.20" x2="144.70" y2="250.80" stroke="#9a9a88" stroke-width="0.6"/>
<line x1="141.70" y1="261.50" x2="144.70" y2="259.10" stroke="#9a9a88" stroke-width="0.6"/>
<line x1="141.70" y1="269.80" x2="144.70" y2="267.40" stroke="#9a9a88" stroke-width="0.6"/>
<line x1="141.70" y1="278.10" x2="144.70" y2="275.70" stroke="#9a9a88" stroke-width="0.6"/>
<line x1="141.70" y1="286.40" x2="144.70" y2="284.00" stroke="#9a9a88" stroke-width="0.6"/>
<line x1="141.70" y1="294.70" x2="144.70" y2="292.30" stroke="#9a9a88" stroke-width="0.6"/>
<line x1="141.70" y1="303.00" x2="144.70" y2="300.60" stroke="#9a9a88" stroke-width="0.6"/>
<line x1="141.70" y1="311.30" x2="144.70" y2="308.90" stroke="#9a9a88" stroke-width="0.6"/>
<line x1="141.70" y1="319.60" x2="144.70" y2="317.20" stroke="#9a9a88" stroke-width="0.6"/>
<line x1="141.70" y1="327.90" x2="144.70" y2="325.50" stroke="#9a9a88" stroke-width="0.6"/>
<line x1="141.70" y1="336.20" x2="144.70" y2="333.80" stroke="#9a9a88" stroke-width="0.6"/>
<line x1="141.70" y1="344.50" x2="144.70" y2="342.10" stroke="#9a9a88" stroke-width="0.6"/>
<line x1="141.70" y1="352.80" x2="144.70" y2="350.40" stroke="#9a9a88" stroke-width="0.6"/>
<line x1="141.70" y1="361.10" x2="144.70" y2="358.70" stroke="#9a9a88" stroke-width="0.6"/>
<line x1="141.70" y1="369.40" x2="144.70" y2="367.00" stroke="#9a9a88" stroke-width="0.6"/>
<line x1="141.70" y1="377.70" x2="144.70" y2="375.30" stroke="#9a9a88" stroke-width="0.6"/>
<line x1="141.70" y1="386.00" x2="144.70" y2="383.60" stroke="#9a9a88" stroke-width="0.6"/>
<line x1="141.70" y1="394.30" x2="144.70" y2="391.90" stroke="#9a9a88" stroke-width="0.6"/>
<line x1="141.70" y1="402.60" x2="144.70" y2="400.20" stroke="#9a9a88" stroke-width="0.6"/>
<line x1="141.70" y1="410.90" x2="144.70" y2="408.50" stroke="#9a9a88" stroke-width="0.6"/>
<line x1="141.70" y1="419.20" x2="144.70" y2="416.80" stroke="#9a9a88" stroke-width="0.6"/>
<line x1="141.70" y1="427.50" x2="144.70" y2="425.10" stroke="#9a9a88" stroke-width="0.6"/>
<line x1="141.70" y1="435.80" x2="144.70" y2="433.40" stroke="#9a9a88" stroke-width="0.6"/>
<line x1="141.70" y1="444.10" x2="144.70" y2="441.70" stroke="#9a9a88" stroke-width="0.6"/>
<line x1="141.70" y1="452.40" x2="144.70" y2="450.00" stroke="#9a9a88" stroke-width="0.6"/>
<line x1="141.70" y1="460.70" x2="144.70" y2="458.30" stroke="#9a9a88" stroke-width="0.6"/>
<line x1="147.30" y1="40.70" x2="147.30" y2="457.80" stroke="#4a4a40" stroke-width="1.0"/>
<line x1="138.40" y1="49.70" x2="147.30" y2="40.70" stroke="#3c3c3c" stroke-width="0.8"/>
<line x1="138.40" y1="49.50" x2="138.40" y2="465.30" stroke="#111" stroke-width="1.6"/>
<polygon points="138.40,465.00 147.30,457.80 687.20,457.80 678.60,465.00" fill="#fff" stroke="#333" stroke-width="0.7" stroke-linejoin="round"/>
<line x1="137.90" y1="465.00" x2="678.60" y2="465.00" stroke="#111" stroke-width="1.1"/>
<polygon points="176.10,324.41 184.10,316.41 184.10,457.80 176.10,465.00" fill="#7c1518" stroke="#2a2a2a" stroke-width="0.5" stroke-linejoin="round"/>
<polygon points="151.30,324.41 159.30,316.41 184.10,316.41 176.10,324.41" fill="#b3191d" stroke="#2a2a2a" stroke-width="0.5" stroke-linejoin="round"/>
<rect x="151.30" y="324.41" width="24.80" height="140.59" fill="#ee2024" stroke="#2a2a2a" stroke-width="0.5"/>
<polygon points="213.79,331.85 221.79,323.85 221.79,457.80 213.79,465.00" fill="#050505" stroke="#2a2a2a" stroke-width="0.5" stroke-linejoin="round"/>
<polygon points="188.99,331.85 196.99,323.85 221.79,323.85 213.79,331.85" fill="#0a4724" stroke="#2a2a2a" stroke-width="0.5" stroke-linejoin="round"/>
<rect x="188.99" y="331.85" width="24.80" height="133.15" fill="#0e8040" stroke="#2a2a2a" stroke-width="0.5"/>
<polygon points="251.48,327.72 259.48,319.72 259.48,457.80 251.48,465.00" fill="#84842e" stroke="#2a2a2a" stroke-width="0.5" stroke-linejoin="round"/>
<polygon points="226.68,327.72 234.68,319.72 259.48,319.72 251.48,327.72" fill="#c2c032" stroke="#2a2a2a" stroke-width="0.5" stroke-linejoin="round"/>
<rect x="226.68" y="327.72" width="24.80" height="137.28" fill="#eeea3c" stroke="#2a2a2a" stroke-width="0.5"/>
<polygon points="289.17,334.33 297.17,326.33 297.17,457.80 289.17,465.00" fill="#1f2670" stroke="#2a2a2a" stroke-width="0.5" stroke-linejoin="round"/>
<polygon points="264.37,334.33 272.37,326.33 297.17,326.33 289.17,334.33" fill="#26389a" stroke="#2a2a2a" stroke-width="0.5" stroke-linejoin="round"/>
<rect x="264.37" y="334.33" width="24.80" height="130.67" fill="#2f4fa8" stroke="#2a2a2a" stroke-width="0.5"/>
<polygon points="326.86,361.62 334.86,353.62 334.86,457.80 326.86,465.00" fill="#858585" stroke="#2a2a2a" stroke-width="0.5" stroke-linejoin="round"/>
<polygon points="302.06,361.62 310.06,353.62 334.86,353.62 326.86,361.62" fill="#bdbdbd" stroke="#2a2a2a" stroke-width="0.5" stroke-linejoin="round"/>
<rect x="302.06" y="361.62" width="24.80" height="103.38" fill="#ffffff" stroke="#2a2a2a" stroke-width="0.5"/>
<polygon points="364.55,353.36 372.55,345.36 372.55,457.80 364.55,465.00" fill="#060606" stroke="#2a2a2a" stroke-width="0.5" stroke-linejoin="round"/>
<polygon points="339.75,353.36 347.75,345.36 372.55,345.36 364.55,353.36" fill="#434343" stroke="#2a2a2a" stroke-width="0.5" stroke-linejoin="round"/>
<rect x="339.75" y="353.36" width="24.80" height="111.64" fill="#828282" stroke="#2a2a2a" stroke-width="0.5"/>
<polygon points="402.24,374.03 410.24,366.03 410.24,457.80 402.24,465.00" fill="#7e2a88" stroke="#2a2a2a" stroke-width="0.5" stroke-linejoin="round"/>
<polygon points="377.44,374.03 385.44,366.03 410.24,366.03 402.24,374.03" fill="#a032a0" stroke="#2a2a2a" stroke-width="0.5" stroke-linejoin="round"/>
<rect x="377.44" y="374.03" width="24.80" height="90.97" fill="#b652a8" stroke="#2a2a2a" stroke-width="0.5"/>
<polygon points="439.93,310.76 447.93,302.76 447.93,457.80 439.93,465.00" fill="#060606" stroke="#2a2a2a" stroke-width="0.5" stroke-linejoin="round"/>
<polygon points="415.13,310.76 423.13,302.76 447.93,302.76 439.93,310.76" fill="#084a4a" stroke="#2a2a2a" stroke-width="0.5" stroke-linejoin="round"/>
<rect x="415.13" y="310.76" width="24.80" height="154.24" fill="#0f8080" stroke="#2a2a2a" stroke-width="0.5"/>
<polygon points="477.62,311.18 485.62,303.18 485.62,457.80 477.62,465.00" fill="#060606" stroke="#2a2a2a" stroke-width="0.5" stroke-linejoin="round"/>
<polygon points="452.82,311.18 460.82,303.18 485.62,303.18 477.62,311.18" fill="#10104e" stroke="#2a2a2a" stroke-width="0.5" stroke-linejoin="round"/>
<rect x="452.82" y="311.18" width="24.80" height="153.82" fill="#28287a" stroke="#2a2a2a" stroke-width="0.5"/>
<polygon points="515.31,328.54 523.31,320.54 523.31,457.80 515.31,465.00" fill="#060606" stroke="#2a2a2a" stroke-width="0.5" stroke-linejoin="round"/>
<polygon points="490.51,328.54 498.51,320.54 523.31,320.54 515.31,328.54" fill="#500d10" stroke="#2a2a2a" stroke-width="0.5" stroke-linejoin="round"/>
<rect x="490.51" y="328.54" width="24.80" height="136.46" fill="#80151a" stroke="#2a2a2a" stroke-width="0.5"/>
<polygon points="553.00,312.00 561.00,304.00 561.00,457.80 553.00,465.00" fill="#108040" stroke="#2a2a2a" stroke-width="0.5" stroke-linejoin="round"/>
<polygon points="528.20,312.00 536.20,304.00 561.00,304.00 553.00,312.00" fill="#35b24a" stroke="#2a2a2a" stroke-width="0.5" stroke-linejoin="round"/>
<rect x="528.20" y="312.00" width="24.80" height="153.00" fill="#68c04a" stroke="#2a2a2a" stroke-width="0.5"/>
<polygon points="590.69,357.49 598.69,349.49 598.69,457.80 590.69,465.00" fill="#060606" stroke="#2a2a2a" stroke-width="0.5" stroke-linejoin="round"/>
<polygon points="565.89,357.49 573.89,349.49 598.69,349.49 590.69,357.49" fill="#47471a" stroke="#2a2a2a" stroke-width="0.5" stroke-linejoin="round"/>
<rect x="565.89" y="357.49" width="24.80" height="107.51" fill="#808032" stroke="#2a2a2a" stroke-width="0.5"/>
<polygon points="628.38,357.49 636.38,349.49 636.38,457.80 628.38,465.00" fill="#060606" stroke="#2a2a2a" stroke-width="0.5" stroke-linejoin="round"/>
<polygon points="603.58,357.49 611.58,349.49 636.38,349.49 628.38,357.49" fill="#42094a" stroke="#2a2a2a" stroke-width="0.5" stroke-linejoin="round"/>
<rect x="603.58" y="357.49" width="24.80" height="107.51" fill="#7a287a" stroke="#2a2a2a" stroke-width="0.5"/>
<polygon points="666.07,361.62 674.07,353.62 674.07,457.80 666.07,465.00" fill="#404040" stroke="#2a2a2a" stroke-width="0.5" stroke-linejoin="round"/>
<polygon points="641.27,361.62 649.27,353.62 674.07,353.62 666.07,361.62" fill="#858585" stroke="#2a2a2a" stroke-width="0.5" stroke-linejoin="round"/>
<rect x="641.27" y="361.62" width="24.80" height="103.38" fill="#c2c2c2" stroke="#2a2a2a" stroke-width="0.5"/>
<line x1="167.90" y1="308.31" x2="167.90" y2="320.41" stroke="#f4f4f0" stroke-width="0.9"/>
<rect x="158.50" y="299.41" width="18.80" height="8.90" fill="#fbf7a0" stroke="#2c2c26" stroke-width="1.0"/>
<text transform="translate(167.90 306.21) scale(.1)" font-size="66.0" fill="#222" font-family='"Liberation Sans","Noto Sans CJK SC",sans-serif' stroke="#222" stroke-width="2.2" text-anchor="middle">0.34</text>
<text transform="translate(163.40 473.10) scale(.1)" font-size="70.0" fill="#222" font-family='"Liberation Sans","Noto Sans CJK SC",sans-serif' stroke="#222" stroke-width="2.2" text-anchor="middle" textLength="218.0" lengthAdjust="spacingAndGlyphs">2#压力</text>
<line x1="205.59" y1="315.75" x2="205.59" y2="327.85" stroke="#f4f4f0" stroke-width="0.9"/>
<rect x="194.39" y="306.85" width="22.40" height="8.90" fill="#fbf7a0" stroke="#2c2c26" stroke-width="1.0"/>
<text transform="translate(205.59 313.65) scale(.1)" font-size="66.0" fill="#222" font-family='"Liberation Sans","Noto Sans CJK SC",sans-serif' stroke="#222" stroke-width="2.2" text-anchor="middle">0.322</text>
<text transform="translate(201.09 473.10) scale(.1)" font-size="70.0" fill="#222" font-family='"Liberation Sans","Noto Sans CJK SC",sans-serif' stroke="#222" stroke-width="2.2" text-anchor="middle" textLength="258.0" lengthAdjust="spacingAndGlyphs">11#压力</text>
<line x1="243.28" y1="311.62" x2="243.28" y2="323.72" stroke="#f4f4f0" stroke-width="0.9"/>
<rect x="232.08" y="302.72" width="22.40" height="8.90" fill="#fbf7a0" stroke="#2c2c26" stroke-width="1.0"/>
<text transform="translate(243.28 309.52) scale(.1)" font-size="66.0" fill="#222" font-family='"Liberation Sans","Noto Sans CJK SC",sans-serif' stroke="#222" stroke-width="2.2" text-anchor="middle">0.332</text>
<text transform="translate(238.78 473.10) scale(.1)" font-size="70.0" fill="#222" font-family='"Liberation Sans","Noto Sans CJK SC",sans-serif' stroke="#222" stroke-width="2.2" text-anchor="middle" textLength="218.0" lengthAdjust="spacingAndGlyphs">4#压力</text>
<line x1="280.97" y1="318.23" x2="280.97" y2="330.33" stroke="#f4f4f0" stroke-width="0.9"/>
<rect x="269.77" y="309.33" width="22.40" height="8.90" fill="#fbf7a0" stroke="#2c2c26" stroke-width="1.0"/>
<text transform="translate(280.97 316.13) scale(.1)" font-size="66.0" fill="#222" font-family='"Liberation Sans","Noto Sans CJK SC",sans-serif' stroke="#222" stroke-width="2.2" text-anchor="middle">0.316</text>
<text transform="translate(276.47 473.10) scale(.1)" font-size="70.0" fill="#222" font-family='"Liberation Sans","Noto Sans CJK SC",sans-serif' stroke="#222" stroke-width="2.2" text-anchor="middle" textLength="258.0" lengthAdjust="spacingAndGlyphs">10#压力</text>
<line x1="318.66" y1="345.52" x2="318.66" y2="357.62" stroke="#111" stroke-width="0.9"/>
<rect x="309.26" y="336.62" width="18.80" height="8.90" fill="#fbf7a0" stroke="#2c2c26" stroke-width="1.0"/>
<text transform="translate(318.66 343.42) scale(.1)" font-size="66.0" fill="#222" font-family='"Liberation Sans","Noto Sans CJK SC",sans-serif' stroke="#222" stroke-width="2.2" text-anchor="middle">0.25</text>
<text transform="translate(314.16 473.10) scale(.1)" font-size="70.0" fill="#222" font-family='"Liberation Sans","Noto Sans CJK SC",sans-serif' stroke="#222" stroke-width="2.2" text-anchor="middle" textLength="258.0" lengthAdjust="spacingAndGlyphs">12#压力</text>
<line x1="356.35" y1="337.25" x2="356.35" y2="349.36" stroke="#f4f4f0" stroke-width="0.9"/>
<rect x="346.95" y="328.36" width="18.80" height="8.90" fill="#fbf7a0" stroke="#2c2c26" stroke-width="1.0"/>
<text transform="translate(356.35 335.15) scale(.1)" font-size="66.0" fill="#222" font-family='"Liberation Sans","Noto Sans CJK SC",sans-serif' stroke="#222" stroke-width="2.2" text-anchor="middle">0.27</text>
<text transform="translate(351.85 473.10) scale(.1)" font-size="70.0" fill="#222" font-family='"Liberation Sans","Noto Sans CJK SC",sans-serif' stroke="#222" stroke-width="2.2" text-anchor="middle" textLength="258.0" lengthAdjust="spacingAndGlyphs">23#压力</text>
<line x1="394.04" y1="357.93" x2="394.04" y2="370.03" stroke="#f4f4f0" stroke-width="0.9"/>
<rect x="384.64" y="349.03" width="18.80" height="8.90" fill="#fbf7a0" stroke="#2c2c26" stroke-width="1.0"/>
<text transform="translate(394.04 355.83) scale(.1)" font-size="66.0" fill="#222" font-family='"Liberation Sans","Noto Sans CJK SC",sans-serif' stroke="#222" stroke-width="2.2" text-anchor="middle">0.22</text>
<text transform="translate(389.54 473.10) scale(.1)" font-size="70.0" fill="#222" font-family='"Liberation Sans","Noto Sans CJK SC",sans-serif' stroke="#222" stroke-width="2.2" text-anchor="middle" textLength="258.0" lengthAdjust="spacingAndGlyphs">25#压力</text>
<line x1="431.73" y1="294.66" x2="431.73" y2="306.76" stroke="#f4f4f0" stroke-width="0.9"/>
<rect x="420.53" y="285.76" width="22.40" height="8.90" fill="#fbf7a0" stroke="#2c2c26" stroke-width="1.0"/>
<text transform="translate(431.73 292.56) scale(.1)" font-size="66.0" fill="#222" font-family='"Liberation Sans","Noto Sans CJK SC",sans-serif' stroke="#222" stroke-width="2.2" text-anchor="middle">0.373</text>
<text transform="translate(427.23 473.10) scale(.1)" font-size="70.0" fill="#222" font-family='"Liberation Sans","Noto Sans CJK SC",sans-serif' stroke="#222" stroke-width="2.2" text-anchor="middle" textLength="258.0" lengthAdjust="spacingAndGlyphs">15#压力</text>
<line x1="469.42" y1="295.08" x2="469.42" y2="307.18" stroke="#f4f4f0" stroke-width="0.9"/>
<rect x="458.22" y="286.18" width="22.40" height="8.90" fill="#fbf7a0" stroke="#2c2c26" stroke-width="1.0"/>
<text transform="translate(469.42 292.98) scale(.1)" font-size="66.0" fill="#222" font-family='"Liberation Sans","Noto Sans CJK SC",sans-serif' stroke="#222" stroke-width="2.2" text-anchor="middle">0.372</text>
<text transform="translate(464.92 473.10) scale(.1)" font-size="70.0" fill="#222" font-family='"Liberation Sans","Noto Sans CJK SC",sans-serif' stroke="#222" stroke-width="2.2" text-anchor="middle" textLength="258.0" lengthAdjust="spacingAndGlyphs">19#压力</text>
<line x1="507.11" y1="312.44" x2="507.11" y2="324.54" stroke="#f4f4f0" stroke-width="0.9"/>
<rect x="497.71" y="303.54" width="18.80" height="8.90" fill="#fbf7a0" stroke="#2c2c26" stroke-width="1.0"/>
<text transform="translate(507.11 310.34) scale(.1)" font-size="66.0" fill="#222" font-family='"Liberation Sans","Noto Sans CJK SC",sans-serif' stroke="#222" stroke-width="2.2" text-anchor="middle">0.33</text>
<text transform="translate(502.61 473.10) scale(.1)" font-size="70.0" fill="#222" font-family='"Liberation Sans","Noto Sans CJK SC",sans-serif' stroke="#222" stroke-width="2.2" text-anchor="middle" textLength="258.0" lengthAdjust="spacingAndGlyphs">26#压力</text>
<line x1="544.80" y1="295.90" x2="544.80" y2="308.00" stroke="#f4f4f0" stroke-width="0.9"/>
<rect x="535.40" y="287.00" width="18.80" height="8.90" fill="#fbf7a0" stroke="#2c2c26" stroke-width="1.0"/>
<text transform="translate(544.80 293.80) scale(.1)" font-size="66.0" fill="#222" font-family='"Liberation Sans","Noto Sans CJK SC",sans-serif' stroke="#222" stroke-width="2.2" text-anchor="middle">0.37</text>
<text transform="translate(540.30 473.10) scale(.1)" font-size="70.0" fill="#222" font-family='"Liberation Sans","Noto Sans CJK SC",sans-serif' stroke="#222" stroke-width="2.2" text-anchor="middle" textLength="258.0" lengthAdjust="spacingAndGlyphs">27#压力</text>
<line x1="582.49" y1="341.39" x2="582.49" y2="353.49" stroke="#f4f4f0" stroke-width="0.9"/>
<rect x="573.09" y="332.49" width="18.80" height="8.90" fill="#fbf7a0" stroke="#2c2c26" stroke-width="1.0"/>
<text transform="translate(582.49 339.29) scale(.1)" font-size="66.0" fill="#222" font-family='"Liberation Sans","Noto Sans CJK SC",sans-serif' stroke="#222" stroke-width="2.2" text-anchor="middle">0.26</text>
<text transform="translate(577.99 473.10) scale(.1)" font-size="70.0" fill="#222" font-family='"Liberation Sans","Noto Sans CJK SC",sans-serif' stroke="#222" stroke-width="2.2" text-anchor="middle" textLength="258.0" lengthAdjust="spacingAndGlyphs">17#压力</text>
<line x1="620.18" y1="341.39" x2="620.18" y2="353.49" stroke="#f4f4f0" stroke-width="0.9"/>
<rect x="610.78" y="332.49" width="18.80" height="8.90" fill="#fbf7a0" stroke="#2c2c26" stroke-width="1.0"/>
<text transform="translate(620.18 339.29) scale(.1)" font-size="66.0" fill="#222" font-family='"Liberation Sans","Noto Sans CJK SC",sans-serif' stroke="#222" stroke-width="2.2" text-anchor="middle">0.26</text>
<text transform="translate(615.68 473.10) scale(.1)" font-size="70.0" fill="#222" font-family='"Liberation Sans","Noto Sans CJK SC",sans-serif' stroke="#222" stroke-width="2.2" text-anchor="middle" textLength="258.0" lengthAdjust="spacingAndGlyphs">22#压力</text>
<line x1="657.87" y1="345.52" x2="657.87" y2="357.62" stroke="#f4f4f0" stroke-width="0.9"/>
<rect x="648.47" y="336.62" width="18.80" height="8.90" fill="#fbf7a0" stroke="#2c2c26" stroke-width="1.0"/>
<text transform="translate(657.87 343.42) scale(.1)" font-size="66.0" fill="#222" font-family='"Liberation Sans","Noto Sans CJK SC",sans-serif' stroke="#222" stroke-width="2.2" text-anchor="middle">0.25</text>
<text transform="translate(653.37 473.10) scale(.1)" font-size="70.0" fill="#222" font-family='"Liberation Sans","Noto Sans CJK SC",sans-serif' stroke="#222" stroke-width="2.2" text-anchor="middle" textLength="258.0" lengthAdjust="spacingAndGlyphs">24#压力</text>
<text transform="translate(137.60 52.75) scale(.1)" font-size="78.0" fill="#262626" font-family='"Liberation Sans","Noto Sans CJK SC",sans-serif' stroke="#262626" stroke-width="1.2" text-anchor="end" textLength="38.0" lengthAdjust="spacingAndGlyphs">1</text>
<text transform="translate(137.60 61.05) scale(.1)" font-size="78.0" fill="#262626" font-family='"Liberation Sans","Noto Sans CJK SC",sans-serif' stroke="#262626" stroke-width="1.2" text-anchor="end" textLength="164.0" lengthAdjust="spacingAndGlyphs">0.98</text>
<text transform="translate(137.60 69.35) scale(.1)" font-size="78.0" fill="#262626" font-family='"Liberation Sans","Noto Sans CJK SC",sans-serif' stroke="#262626" stroke-width="1.2" text-anchor="end" textLength="164.0" lengthAdjust="spacingAndGlyphs">0.96</text>
<text transform="translate(137.60 77.65) scale(.1)" font-size="78.0" fill="#262626" font-family='"Liberation Sans","Noto Sans CJK SC",sans-serif' stroke="#262626" stroke-width="1.2" text-anchor="end" textLength="164.0" lengthAdjust="spacingAndGlyphs">0.94</text>
<text transform="translate(137.60 85.95) scale(.1)" font-size="78.0" fill="#262626" font-family='"Liberation Sans","Noto Sans CJK SC",sans-serif' stroke="#262626" stroke-width="1.2" text-anchor="end" textLength="164.0" lengthAdjust="spacingAndGlyphs">0.92</text>
<text transform="translate(137.60 94.25) scale(.1)" font-size="78.0" fill="#262626" font-family='"Liberation Sans","Noto Sans CJK SC",sans-serif' stroke="#262626" stroke-width="1.2" text-anchor="end" textLength="122.0" lengthAdjust="spacingAndGlyphs">0.9</text>
<text transform="translate(137.60 102.55) scale(.1)" font-size="78.0" fill="#262626" font-family='"Liberation Sans","Noto Sans CJK SC",sans-serif' stroke="#262626" stroke-width="1.2" text-anchor="end" textLength="164.0" lengthAdjust="spacingAndGlyphs">0.88</text>
<text transform="translate(137.60 110.85) scale(.1)" font-size="78.0" fill="#262626" font-family='"Liberation Sans","Noto Sans CJK SC",sans-serif' stroke="#262626" stroke-width="1.2" text-anchor="end" textLength="164.0" lengthAdjust="spacingAndGlyphs">0.86</text>
<text transform="translate(137.60 119.15) scale(.1)" font-size="78.0" fill="#262626" font-family='"Liberation Sans","Noto Sans CJK SC",sans-serif' stroke="#262626" stroke-width="1.2" text-anchor="end" textLength="164.0" lengthAdjust="spacingAndGlyphs">0.84</text>
<text transform="translate(137.60 127.45) scale(.1)" font-size="78.0" fill="#262626" font-family='"Liberation Sans","Noto Sans CJK SC",sans-serif' stroke="#262626" stroke-width="1.2" text-anchor="end" textLength="164.0" lengthAdjust="spacingAndGlyphs">0.82</text>
<text transform="translate(137.60 135.75) scale(.1)" font-size="78.0" fill="#262626" font-family='"Liberation Sans","Noto Sans CJK SC",sans-serif' stroke="#262626" stroke-width="1.2" text-anchor="end" textLength="122.0" lengthAdjust="spacingAndGlyphs">0.8</text>
<text transform="translate(137.60 144.05) scale(.1)" font-size="78.0" fill="#262626" font-family='"Liberation Sans","Noto Sans CJK SC",sans-serif' stroke="#262626" stroke-width="1.2" text-anchor="end" textLength="164.0" lengthAdjust="spacingAndGlyphs">0.78</text>
<text transform="translate(137.60 152.35) scale(.1)" font-size="78.0" fill="#262626" font-family='"Liberation Sans","Noto Sans CJK SC",sans-serif' stroke="#262626" stroke-width="1.2" text-anchor="end" textLength="164.0" lengthAdjust="spacingAndGlyphs">0.76</text>
<text transform="translate(137.60 160.65) scale(.1)" font-size="78.0" fill="#262626" font-family='"Liberation Sans","Noto Sans CJK SC",sans-serif' stroke="#262626" stroke-width="1.2" text-anchor="end" textLength="164.0" lengthAdjust="spacingAndGlyphs">0.74</text>
<text transform="translate(137.60 168.95) scale(.1)" font-size="78.0" fill="#262626" font-family='"Liberation Sans","Noto Sans CJK SC",sans-serif' stroke="#262626" stroke-width="1.2" text-anchor="end" textLength="164.0" lengthAdjust="spacingAndGlyphs">0.72</text>
<text transform="translate(137.60 177.25) scale(.1)" font-size="78.0" fill="#262626" font-family='"Liberation Sans","Noto Sans CJK SC",sans-serif' stroke="#262626" stroke-width="1.2" text-anchor="end" textLength="122.0" lengthAdjust="spacingAndGlyphs">0.7</text>
<text transform="translate(137.60 185.55) scale(.1)" font-size="78.0" fill="#262626" font-family='"Liberation Sans","Noto Sans CJK SC",sans-serif' stroke="#262626" stroke-width="1.2" text-anchor="end" textLength="164.0" lengthAdjust="spacingAndGlyphs">0.68</text>
<text transform="translate(137.60 193.85) scale(.1)" font-size="78.0" fill="#262626" font-family='"Liberation Sans","Noto Sans CJK SC",sans-serif' stroke="#262626" stroke-width="1.2" text-anchor="end" textLength="164.0" lengthAdjust="spacingAndGlyphs">0.66</text>
<text transform="translate(137.60 202.15) scale(.1)" font-size="78.0" fill="#262626" font-family='"Liberation Sans","Noto Sans CJK SC",sans-serif' stroke="#262626" stroke-width="1.2" text-anchor="end" textLength="164.0" lengthAdjust="spacingAndGlyphs">0.64</text>
<text transform="translate(137.60 210.45) scale(.1)" font-size="78.0" fill="#262626" font-family='"Liberation Sans","Noto Sans CJK SC",sans-serif' stroke="#262626" stroke-width="1.2" text-anchor="end" textLength="164.0" lengthAdjust="spacingAndGlyphs">0.62</text>
<text transform="translate(137.60 218.75) scale(.1)" font-size="78.0" fill="#262626" font-family='"Liberation Sans","Noto Sans CJK SC",sans-serif' stroke="#262626" stroke-width="1.2" text-anchor="end" textLength="122.0" lengthAdjust="spacingAndGlyphs">0.6</text>
<text transform="translate(137.60 227.05) scale(.1)" font-size="78.0" fill="#262626" font-family='"Liberation Sans","Noto Sans CJK SC",sans-serif' stroke="#262626" stroke-width="1.2" text-anchor="end" textLength="164.0" lengthAdjust="spacingAndGlyphs">0.58</text>
<text transform="translate(137.60 235.35) scale(.1)" font-size="78.0" fill="#262626" font-family='"Liberation Sans","Noto Sans CJK SC",sans-serif' stroke="#262626" stroke-width="1.2" text-anchor="end" textLength="164.0" lengthAdjust="spacingAndGlyphs">0.56</text>
<text transform="translate(137.60 243.65) scale(.1)" font-size="78.0" fill="#262626" font-family='"Liberation Sans","Noto Sans CJK SC",sans-serif' stroke="#262626" stroke-width="1.2" text-anchor="end" textLength="164.0" lengthAdjust="spacingAndGlyphs">0.54</text>
<text transform="translate(137.60 251.95) scale(.1)" font-size="78.0" fill="#262626" font-family='"Liberation Sans","Noto Sans CJK SC",sans-serif' stroke="#262626" stroke-width="1.2" text-anchor="end" textLength="164.0" lengthAdjust="spacingAndGlyphs">0.52</text>
<text transform="translate(137.60 260.25) scale(.1)" font-size="78.0" fill="#262626" font-family='"Liberation Sans","Noto Sans CJK SC",sans-serif' stroke="#262626" stroke-width="1.2" text-anchor="end" textLength="122.0" lengthAdjust="spacingAndGlyphs">0.5</text>
<text transform="translate(137.60 268.55) scale(.1)" font-size="78.0" fill="#262626" font-family='"Liberation Sans","Noto Sans CJK SC",sans-serif' stroke="#262626" stroke-width="1.2" text-anchor="end" textLength="164.0" lengthAdjust="spacingAndGlyphs">0.48</text>
<text transform="translate(137.60 276.85) scale(.1)" font-size="78.0" fill="#262626" font-family='"Liberation Sans","Noto Sans CJK SC",sans-serif' stroke="#262626" stroke-width="1.2" text-anchor="end" textLength="164.0" lengthAdjust="spacingAndGlyphs">0.46</text>
<text transform="translate(137.60 285.15) scale(.1)" font-size="78.0" fill="#262626" font-family='"Liberation Sans","Noto Sans CJK SC",sans-serif' stroke="#262626" stroke-width="1.2" text-anchor="end" textLength="164.0" lengthAdjust="spacingAndGlyphs">0.44</text>
<text transform="translate(137.60 293.45) scale(.1)" font-size="78.0" fill="#262626" font-family='"Liberation Sans","Noto Sans CJK SC",sans-serif' stroke="#262626" stroke-width="1.2" text-anchor="end" textLength="164.0" lengthAdjust="spacingAndGlyphs">0.42</text>
<text transform="translate(137.60 301.75) scale(.1)" font-size="78.0" fill="#262626" font-family='"Liberation Sans","Noto Sans CJK SC",sans-serif' stroke="#262626" stroke-width="1.2" text-anchor="end" textLength="122.0" lengthAdjust="spacingAndGlyphs">0.4</text>
<text transform="translate(137.60 310.05) scale(.1)" font-size="78.0" fill="#262626" font-family='"Liberation Sans","Noto Sans CJK SC",sans-serif' stroke="#262626" stroke-width="1.2" text-anchor="end" textLength="164.0" lengthAdjust="spacingAndGlyphs">0.38</text>
<text transform="translate(137.60 318.35) scale(.1)" font-size="78.0" fill="#262626" font-family='"Liberation Sans","Noto Sans CJK SC",sans-serif' stroke="#262626" stroke-width="1.2" text-anchor="end" textLength="164.0" lengthAdjust="spacingAndGlyphs">0.36</text>
<text transform="translate(137.60 326.65) scale(.1)" font-size="78.0" fill="#262626" font-family='"Liberation Sans","Noto Sans CJK SC",sans-serif' stroke="#262626" stroke-width="1.2" text-anchor="end" textLength="164.0" lengthAdjust="spacingAndGlyphs">0.34</text>
<text transform="translate(137.60 334.95) scale(.1)" font-size="78.0" fill="#262626" font-family='"Liberation Sans","Noto Sans CJK SC",sans-serif' stroke="#262626" stroke-width="1.2" text-anchor="end" textLength="164.0" lengthAdjust="spacingAndGlyphs">0.32</text>
<text transform="translate(137.60 343.25) scale(.1)" font-size="78.0" fill="#262626" font-family='"Liberation Sans","Noto Sans CJK SC",sans-serif' stroke="#262626" stroke-width="1.2" text-anchor="end" textLength="122.0" lengthAdjust="spacingAndGlyphs">0.3</text>
<text transform="translate(137.60 351.55) scale(.1)" font-size="78.0" fill="#262626" font-family='"Liberation Sans","Noto Sans CJK SC",sans-serif' stroke="#262626" stroke-width="1.2" text-anchor="end" textLength="164.0" lengthAdjust="spacingAndGlyphs">0.28</text>
<text transform="translate(137.60 359.85) scale(.1)" font-size="78.0" fill="#262626" font-family='"Liberation Sans","Noto Sans CJK SC",sans-serif' stroke="#262626" stroke-width="1.2" text-anchor="end" textLength="164.0" lengthAdjust="spacingAndGlyphs">0.26</text>
<text transform="translate(137.60 368.15) scale(.1)" font-size="78.0" fill="#262626" font-family='"Liberation Sans","Noto Sans CJK SC",sans-serif' stroke="#262626" stroke-width="1.2" text-anchor="end" textLength="164.0" lengthAdjust="spacingAndGlyphs">0.24</text>
<text transform="translate(137.60 376.45) scale(.1)" font-size="78.0" fill="#262626" font-family='"Liberation Sans","Noto Sans CJK SC",sans-serif' stroke="#262626" stroke-width="1.2" text-anchor="end" textLength="164.0" lengthAdjust="spacingAndGlyphs">0.22</text>
<text transform="translate(137.60 384.75) scale(.1)" font-size="78.0" fill="#262626" font-family='"Liberation Sans","Noto Sans CJK SC",sans-serif' stroke="#262626" stroke-width="1.2" text-anchor="end" textLength="122.0" lengthAdjust="spacingAndGlyphs">0.2</text>
<text transform="translate(137.60 393.05) scale(.1)" font-size="78.0" fill="#262626" font-family='"Liberation Sans","Noto Sans CJK SC",sans-serif' stroke="#262626" stroke-width="1.2" text-anchor="end" textLength="164.0" lengthAdjust="spacingAndGlyphs">0.18</text>
<text transform="translate(137.60 401.35) scale(.1)" font-size="78.0" fill="#262626" font-family='"Liberation Sans","Noto Sans CJK SC",sans-serif' stroke="#262626" stroke-width="1.2" text-anchor="end" textLength="164.0" lengthAdjust="spacingAndGlyphs">0.16</text>
<text transform="translate(137.60 409.65) scale(.1)" font-size="78.0" fill="#262626" font-family='"Liberation Sans","Noto Sans CJK SC",sans-serif' stroke="#262626" stroke-width="1.2" text-anchor="end" textLength="164.0" lengthAdjust="spacingAndGlyphs">0.14</text>
<text transform="translate(137.60 417.95) scale(.1)" font-size="78.0" fill="#262626" font-family='"Liberation Sans","Noto Sans CJK SC",sans-serif' stroke="#262626" stroke-width="1.2" text-anchor="end" textLength="164.0" lengthAdjust="spacingAndGlyphs">0.12</text>
<text transform="translate(137.60 426.25) scale(.1)" font-size="78.0" fill="#262626" font-family='"Liberation Sans","Noto Sans CJK SC",sans-serif' stroke="#262626" stroke-width="1.2" text-anchor="end" textLength="122.0" lengthAdjust="spacingAndGlyphs">0.1</text>
<text transform="translate(137.60 434.55) scale(.1)" font-size="78.0" fill="#262626" font-family='"Liberation Sans","Noto Sans CJK SC",sans-serif' stroke="#262626" stroke-width="1.2" text-anchor="end" textLength="164.0" lengthAdjust="spacingAndGlyphs">0.08</text>
<text transform="translate(137.60 442.85) scale(.1)" font-size="78.0" fill="#262626" font-family='"Liberation Sans","Noto Sans CJK SC",sans-serif' stroke="#262626" stroke-width="1.2" text-anchor="end" textLength="164.0" lengthAdjust="spacingAndGlyphs">0.06</text>
<text transform="translate(137.60 451.15) scale(.1)" font-size="78.0" fill="#262626" font-family='"Liberation Sans","Noto Sans CJK SC",sans-serif' stroke="#262626" stroke-width="1.2" text-anchor="end" textLength="164.0" lengthAdjust="spacingAndGlyphs">0.04</text>
<text transform="translate(137.60 459.45) scale(.1)" font-size="78.0" fill="#262626" font-family='"Liberation Sans","Noto Sans CJK SC",sans-serif' stroke="#262626" stroke-width="1.2" text-anchor="end" textLength="164.0" lengthAdjust="spacingAndGlyphs">0.02</text>
<text transform="translate(137.60 467.75) scale(.1)" font-size="78.0" fill="#262626" font-family='"Liberation Sans","Noto Sans CJK SC",sans-serif' stroke="#262626" stroke-width="1.2" text-anchor="end" textLength="38.0" lengthAdjust="spacingAndGlyphs">0</text>
<text transform="translate(403.50 38.00) scale(.1)" font-size="90.0" fill="#3a47a6" font-family='"Liberation Mono","Noto Sans CJK SC",monospace' stroke="#3a47a6" stroke-width="0.8" text-anchor="middle" textLength="1390.0" lengthAdjust="spacingAndGlyphs">2010-11-08 11:17:49 实时柱状图</text>
<text transform="translate(403.50 483.00) scale(.1)" font-size="74.0" fill="#222" font-family='"Liberation Sans","Noto Sans CJK SC",sans-serif' stroke="#222" stroke-width="2.2" text-anchor="middle" textLength="310.0" lengthAdjust="spacingAndGlyphs">参数名称</text>
<text transform="translate(119.00 263.60) scale(.1) rotate(-90)" font-size="62.0" fill="#f0562c" font-family='"Liberation Sans","Noto Sans CJK SC",sans-serif'>数值</text>
<rect x="707.10" y="61.50" width="56.40" height="118.00" fill="#2a2410"/>
<rect x="705.00" y="59.50" width="56.40" height="118.00" fill="#fff" stroke="#222" stroke-width="0.8"/>
<rect x="708.50" y="61.30" width="5.20" height="5.00" fill="#ee2024" stroke="#222" stroke-width="0.9"/>
<text transform="translate(716.80 66.10) scale(.1)" font-size="65.5" fill="#222" font-family='"Liberation Sans","Noto Sans CJK SC",sans-serif' stroke="#222" stroke-width="2.2">2#压力 0.34</text>
<rect x="708.50" y="69.66" width="5.20" height="5.00" fill="#0e8040" stroke="#222" stroke-width="0.9"/>
<text transform="translate(716.80 74.46) scale(.1)" font-size="65.5" fill="#222" font-family='"Liberation Sans","Noto Sans CJK SC",sans-serif' stroke="#222" stroke-width="2.2">11#压力 0.322</text>
<rect x="708.50" y="78.02" width="5.20" height="5.00" fill="#eeea3c" stroke="#222" stroke-width="0.9"/>
<text transform="translate(716.80 82.82) scale(.1)" font-size="65.5" fill="#222" font-family='"Liberation Sans","Noto Sans CJK SC",sans-serif' stroke="#222" stroke-width="2.2">4#压力 0.332</text>
<rect x="708.50" y="86.38" width="5.20" height="5.00" fill="#2f4fa8" stroke="#222" stroke-width="0.9"/>
<text transform="translate(716.80 91.18) scale(.1)" font-size="65.5" fill="#222" font-family='"Liberation Sans","Noto Sans CJK SC",sans-serif' stroke="#222" stroke-width="2.2">10#压力 0.316</text>
<rect x="708.50" y="94.74" width="5.20" height="5.00" fill="#ffffff" stroke="#222" stroke-width="0.9"/>
<text transform="translate(716.80 99.54) scale(.1)" font-size="65.5" fill="#222" font-family='"Liberation Sans","Noto Sans CJK SC",sans-serif' stroke="#222" stroke-width="2.2">12#压力 0.25</text>
<rect x="708.50" y="103.10" width="5.20" height="5.00" fill="#828282" stroke="#222" stroke-width="0.9"/>
<text transform="translate(716.80 107.90) scale(.1)" font-size="65.5" fill="#222" font-family='"Liberation Sans","Noto Sans CJK SC",sans-serif' stroke="#222" stroke-width="2.2">23#压力 0.27</text>
<rect x="708.50" y="111.46" width="5.20" height="5.00" fill="#b652a8" stroke="#222" stroke-width="0.9"/>
<text transform="translate(716.80 116.26) scale(.1)" font-size="65.5" fill="#222" font-family='"Liberation Sans","Noto Sans CJK SC",sans-serif' stroke="#222" stroke-width="2.2">25#压力 0.22</text>
<rect x="708.50" y="119.82" width="5.20" height="5.00" fill="#0f8080" stroke="#222" stroke-width="0.9"/>
<text transform="translate(716.80 124.62) scale(.1)" font-size="65.5" fill="#222" font-family='"Liberation Sans","Noto Sans CJK SC",sans-serif' stroke="#222" stroke-width="2.2">15#压力 0.373</text>
<rect x="708.50" y="128.18" width="5.20" height="5.00" fill="#28287a" stroke="#222" stroke-width="0.9"/>
<text transform="translate(716.80 132.98) scale(.1)" font-size="65.5" fill="#222" font-family='"Liberation Sans","Noto Sans CJK SC",sans-serif' stroke="#222" stroke-width="2.2">19#压力 0.372</text>
<rect x="708.50" y="136.54" width="5.20" height="5.00" fill="#80151a" stroke="#222" stroke-width="0.9"/>
<text transform="translate(716.80 141.34) scale(.1)" font-size="65.5" fill="#222" font-family='"Liberation Sans","Noto Sans CJK SC",sans-serif' stroke="#222" stroke-width="2.2">26#压力 0.33</text>
<rect x="708.50" y="144.90" width="5.20" height="5.00" fill="#68c04a" stroke="#222" stroke-width="0.9"/>
<text transform="translate(716.80 149.70) scale(.1)" font-size="65.5" fill="#222" font-family='"Liberation Sans","Noto Sans CJK SC",sans-serif' stroke="#222" stroke-width="2.2">27#压力 0.37</text>
<rect x="708.50" y="153.26" width="5.20" height="5.00" fill="#808032" stroke="#222" stroke-width="0.9"/>
<text transform="translate(716.80 158.06) scale(.1)" font-size="65.5" fill="#222" font-family='"Liberation Sans","Noto Sans CJK SC",sans-serif' stroke="#222" stroke-width="2.2">17#压力 0.26</text>
<rect x="708.50" y="161.62" width="5.20" height="5.00" fill="#7a287a" stroke="#222" stroke-width="0.9"/>
<text transform="translate(716.80 166.42) scale(.1)" font-size="65.5" fill="#222" font-family='"Liberation Sans","Noto Sans CJK SC",sans-serif' stroke="#222" stroke-width="2.2">22#压力 0.26</text>
<rect x="708.50" y="169.98" width="5.20" height="5.00" fill="#c2c2c2" stroke="#222" stroke-width="0.9"/>
<text transform="translate(716.80 174.78) scale(.1)" font-size="65.5" fill="#222" font-family='"Liberation Sans","Noto Sans CJK SC",sans-serif' stroke="#222" stroke-width="2.2">24#压力 0.25</text>
</g>
</svg></body></html>
